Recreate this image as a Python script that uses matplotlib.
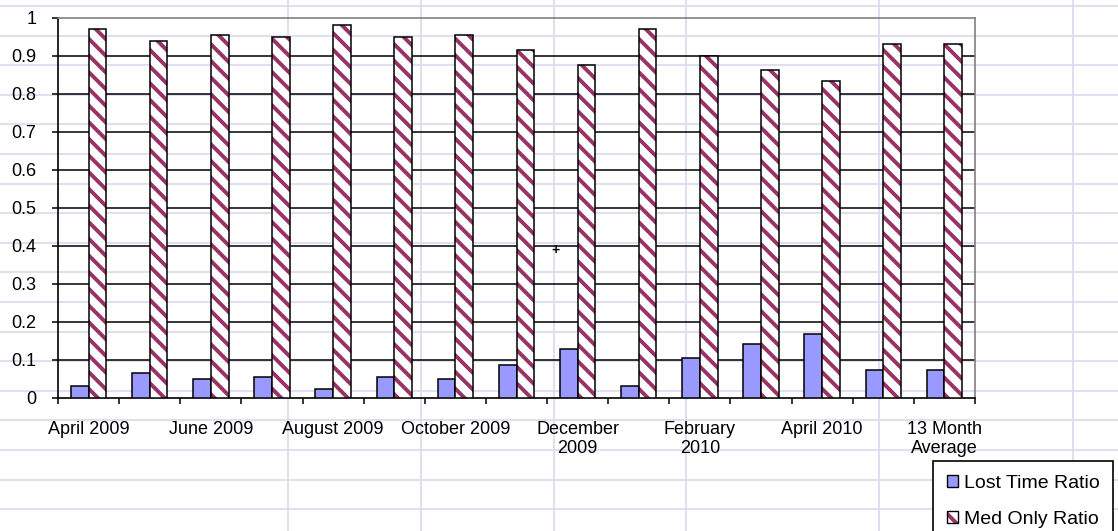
import numpy as np
import matplotlib.pyplot as plt
from matplotlib.patches import Patch
from matplotlib.legend_handler import HandlerTuple

plt.rcParams['font.family'] = ['Liberation Sans', 'DejaVu Sans']
plt.rcParams['hatch.linewidth'] = 2.8

# Данные
categories = ['April 2009', 'May 2009', 'June 2009', 'July 2009', 'August 2009',
              'September 2009', 'October 2009', 'November 2009', 'December\n2009',
              'January 2010', 'February\n2010', 'March 2010', 'April 2010',
              'May 2010', '13 Month\nAverage']
lost_time = [0.030, 0.064, 0.049, 0.054, 0.022, 0.054, 0.049, 0.085, 0.127,
             0.031, 0.105, 0.141, 0.169, 0.073, 0.073]
med_only = [0.971, 0.940, 0.954, 0.950, 0.981, 0.949, 0.954, 0.917, 0.876,
            0.972, 0.900, 0.862, 0.835, 0.931, 0.931]
y_ticks = [0, 0.1, 0.2, 0.3, 0.4, 0.5, 0.6, 0.7, 0.8, 0.9, 1]

W, H = 1118, 531
fig = plt.figure(figsize=(W / 100, H / 100), dpi=100)

# фон - сетка листа Excel
bg = fig.add_axes([0, 0, 1, 1], zorder=0)
bg.set_xlim(0, W)
bg.set_ylim(H, 0)
bg.axis('off')
grid_col = '#dcdcee'
for yy in 6 + 29.6 * np.arange(18):
    bg.axhline(yy, color=grid_col, lw=1.3)
for xx in [288, 421, 554, 686, 879, 1073]:
    bg.axvline(xx, color=grid_col, lw=1.3)

# сама диаграмма
left, right, top, bottom = 58, 975, 18, 397.7
ax = fig.add_axes([left / W, 1 - bottom / H, (right - left) / W, (bottom - top) / H], zorder=1)
ax.set_facecolor('none')

hatch = '\\\\'
x = np.arange(len(categories))
bw = 0.29
ax.bar(x - bw / 2, lost_time, bw, color='#9999ff', edgecolor='black', lw=1.1, zorder=3)
ax.bar(x + bw / 2, med_only, bw, facecolor='white', edgecolor='#993366', hatch=hatch, lw=0, zorder=3)
ax.bar(x + bw / 2, med_only, bw, fill=False, edgecolor='black', lw=1.1, zorder=4)

ax.set_xlim(-0.5, len(categories) - 0.5)
ax.set_ylim(0, 1)

ax.set_yticks(y_ticks)
ax.set_yticklabels([f'{v:g}' for v in y_ticks])
ax.yaxis.grid(True, color='black', lw=1.1, zorder=1)
ax.set_axisbelow(True)
ax.get_ygridlines()[-1].set_visible(False)
ax.get_ygridlines()[0].set_visible(False)

ax.set_xticks(np.arange(-0.5, len(categories), 1))
ax.set_xticklabels([])
ax.set_xticks(x, minor=True)
ax.set_xticklabels([c if i % 2 == 0 else '' for i, c in enumerate(categories)],
                   minor=True, multialignment='center')

ax.tick_params(axis='y', direction='out', length=4, width=1.1, pad=11.5, labelsize=13)
ax.tick_params(axis='x', which='major', direction='out', length=4.5, width=1.1)
ax.tick_params(axis='x', which='minor', length=0, pad=16.5, labelsize=13)

for s in ['left', 'bottom']:
    ax.spines[s].set_color('black')
    ax.spines[s].set_linewidth(1.2)
for s in ['top', 'right']:
    ax.spines[s].set_color('#808080')
    ax.spines[s].set_linewidth(1.2)

# легенда
h1 = Patch(facecolor='#9999ff', edgecolor='black', lw=1)
h2a = Patch(facecolor='white', edgecolor='#993366', hatch=hatch, lw=0)
h2b = Patch(fill=False, edgecolor='black', lw=1)
leg = fig.legend([h1, (h2a, h2b)], ['Lost Time Ratio', 'Med Only Ratio'],
                 handler_map={tuple: HandlerTuple(ndivide=1, pad=0)},
                 loc='upper left', bbox_to_anchor=(933 / W, 1 - 461 / H),
                 borderaxespad=0, fontsize=14, handlelength=0.6, handleheight=0.6,
                 handletextpad=0.3, labelspacing=1.0, borderpad=0.7,
                 fancybox=False, framealpha=1, edgecolor='black')
leg.get_frame().set_linewidth(1.2)
leg.set_zorder(5)

# курсор мыши
fig.text(555 / W, 1 - 250 / H, '+', ha='center', va='center', fontsize=10, fontweight='bold')

fig.savefig('out.png', dpi=100)
